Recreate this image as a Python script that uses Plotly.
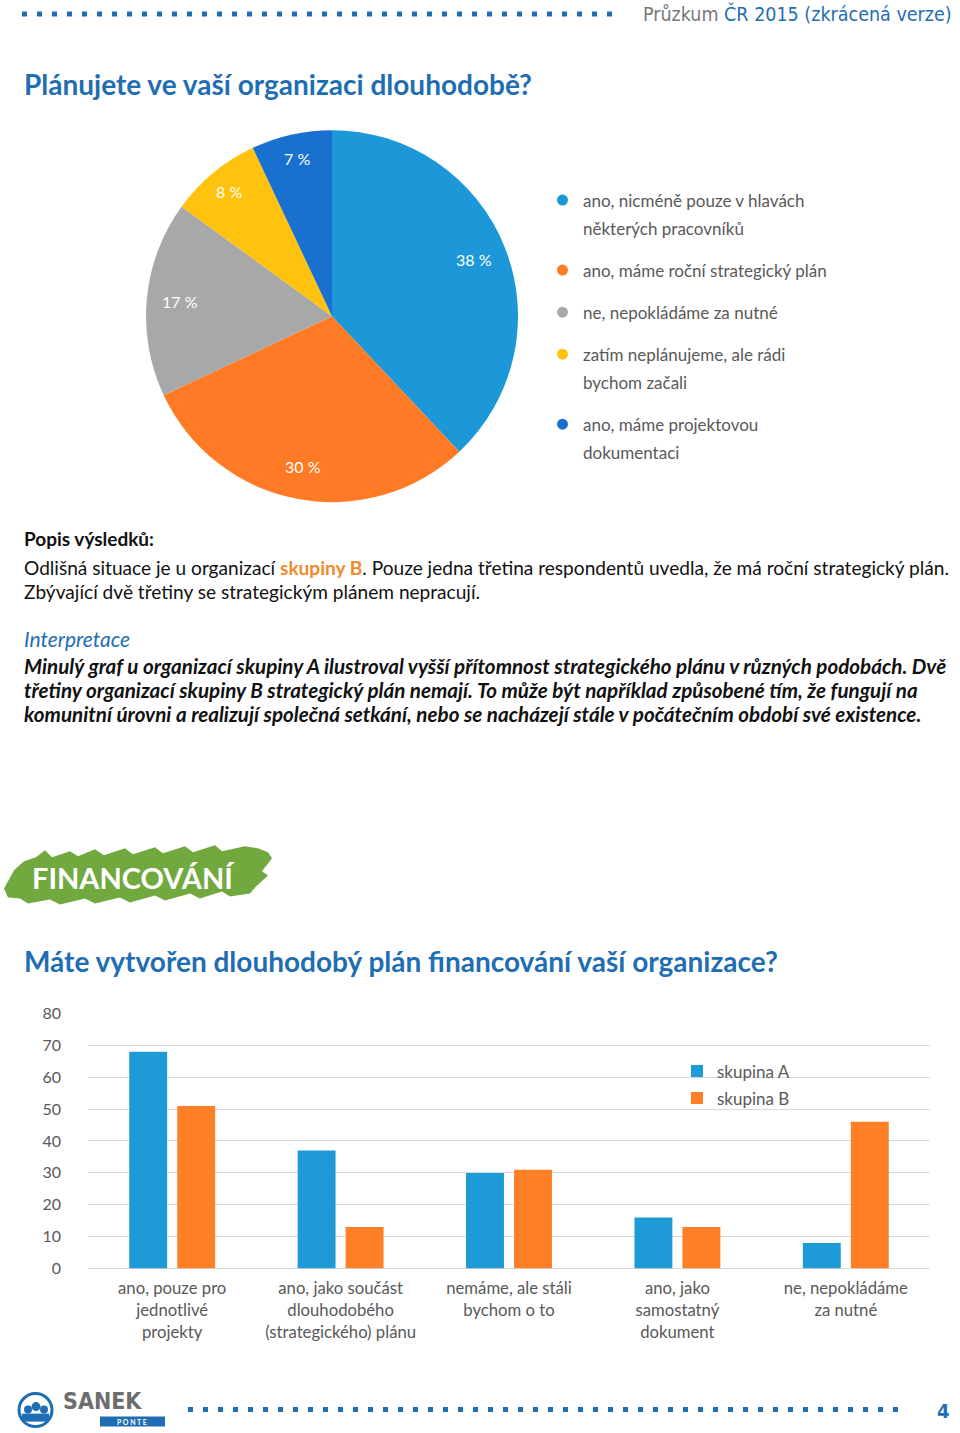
import math
import plotly.graph_objects as go

W, H = 960, 1453
SY = 0.9865   # vertical scale observed between the figure and the photographed page

# ---------------- data ----------------
pie_labels = ["ano, nicméně pouze v hlavách<br>některých pracovníků",
              "ano, máme roční strategický plán",
              "ne, nepokládáme za nutné",
              "zatím neplánujeme, ale rádi<br>bychom začali",
              "ano, máme projektovou<br>dokumentaci"]
pie_values = [38, 30, 17, 8, 7]
pie_colors = ["#1c98d8", "#ff7a25", "#a8a8a8", "#ffc30f", "#1a70cf"]

bar_categories = ["ano, pouze pro<br>jednotlivé<br>projekty",
                  "ano, jako součást<br>dlouhodobého<br>(strategického) plánu",
                  "nemáme, ale stáli<br>bychom o to",
                  "ano, jako<br>samostatný<br>dokument",
                  "ne, nepokládáme<br>za nutné"]
skupina_a = [68, 37, 30, 16, 8]
skupina_b = [51, 13, 31, 13, 46]
bar_series = ["skupina A", "skupina B"]
bar_colors = ["#1e9ad6", "#ff7f27"]
y_ticks = [0, 10, 20, 30, 40, 50, 60, 70, 80]

BLUE = "#1f6eb4"
GRAY = "#595959"
FONT = "Lato, 'Open Sans', sans-serif"
NARROW = "'Liberation Sans Narrow', 'DejaVu Sans Condensed', 'Roboto Condensed', sans-serif"


def px(x):
    return x / W


def py(y):
    return 1 - (y / SY) / H


fig = go.Figure()

# ---------------- pie ----------------
PCX, PCY, PR = 332, 316, 186
fig.add_trace(go.Pie(
    labels=pie_labels, values=pie_values, sort=False, direction="clockwise",
    rotation=0, marker=dict(colors=pie_colors, line=dict(width=0)),
    textinfo="none",
    domain=dict(x=[px(PCX - PR), px(PCX + PR)], y=[py(PCY + PR), py(PCY - PR)]),
    showlegend=False, hoverinfo="label+value",
))

# ---------------- bars ----------------
for name, vals, col in zip(bar_series, [skupina_a, skupina_b], bar_colors):
    fig.add_trace(go.Bar(x=bar_categories, y=vals, name=name, legendgroup=name,
                         marker=dict(color=col, line=dict(width=0))))

fig.update_layout(
    width=W, height=H, margin=dict(l=0, r=0, t=0, b=0),
    paper_bgcolor="white", plot_bgcolor="white",
    barmode="group", bargap=0.43, bargroupgap=0.21,
    font=dict(family=FONT, color=GRAY),
    xaxis=dict(domain=[px(88), px(930)], showline=False, showgrid=False, zeroline=False,
               ticks="", tickfont=dict(size=16.7, color=GRAY), ticklabelstandoff=8),
    yaxis=dict(domain=[py(1268), py(1013)], range=[0, 80], tickvals=y_ticks,
               showgrid=True, gridcolor="#d9d9d9", gridwidth=1, zeroline=True,
               zerolinecolor="#d9d9d9", zerolinewidth=1, showline=False, ticks="",
               tickfont=dict(size=16, color=GRAY), ticklabelstandoff=26),
    legend=dict(x=px(677), y=py(1053), xanchor="left", yanchor="top",
                font=dict(size=17, color=GRAY), bgcolor="rgba(0,0,0,0)", tracegroupgap=2,
                itemsizing="constant"),
)

shapes = []
ann = []


def text(x, y, s, size, color, family=FONT, xanchor="left", yanchor="middle"):
    ann.append(dict(x=px(x), y=py(y), xref="paper", yref="paper", text=s, showarrow=False,
                    xanchor=xanchor, yanchor=yanchor, align="left",
                    font=dict(size=size, color=color, family=family)))


# pie percentage labels, placed along each slice's mid angle
cum = 0
total = sum(pie_values)
for v in pie_values:
    mid = (cum + v / 2) / total * 2 * math.pi
    rf = 0.82 if v > 12 else 0.87
    text(PCX + rf * PR * math.sin(mid), PCY - rf * PR * math.cos(mid), "%d %%" % v, 16, "white",
         xanchor="center")
    cum += v

# header
shapes.append(dict(type="line", xref="paper", yref="paper", x0=px(22), x1=px(622), y0=py(14), y1=py(14),
                   line=dict(color=BLUE, width=5, dash="5px,10px")))
text(954, 14, "<span style='color:#777777'>Průzkum</span> ČR 2015 (zkrácená verze)", 19.5, BLUE,
     family=NARROW, xanchor="right")

# title
text(22, 84, "<b>Plánujete ve vaší organizaci dlouhodobě?</b>", 28, BLUE)

# pie legend
yy = 200
for lab, col in zip(pie_labels, pie_colors):
    lines = lab.split("<br>")
    shapes.append(dict(type="circle", xref="paper", yref="paper", x0=px(557), x1=px(568),
                       y0=py(yy + 5.5), y1=py(yy - 5.5), fillcolor=col, line=dict(width=0)))
    for i, ln in enumerate(lines):
        text(581, yy + 28 * i, ln, 17, GRAY)
    yy += 28 * len(lines) + 14

# description
text(22, 538, "<b>Popis výsledků:</b>", 19, "#111111")
text(22, 567, "Odlišná situace je u organizací <b><span style='color:#f08a2c'>skupiny B</span></b>. "
              "Pouze jedna třetina respondentů uvedla, že má roční strategický plán.", 19.1, "#111111")
text(22, 591, "Zbývající dvě třetiny se strategickým plánem nepracují.", 19.1, "#111111")
text(22, 638, "<i>Interpretace</i>", 21, BLUE)
interp = ["Minulý graf u organizací skupiny A ilustroval vyšší přítomnost strategického plánu v různých podobách. Dvě",
          "třetiny organizací skupiny B strategický plán nemají. To může být například způsobené tím, že fungují na",
          "komunitní úrovni a realizují společná setkání, nebo se nacházejí stále v počátečním období své existence."]
for i, ln in enumerate(interp):
    text(22, 666 + 24 * i, "<b><i>" + ln + "</i></b>", 20.6, "#111111")

# FINANCOVÁNÍ banner (scribbled green brush stroke)
banner = [(4, 888), (14, 870), (24, 861), (36, 857), (45, 850), (52, 857), (70, 851), (78, 856),
          (95, 849), (104, 855), (125, 848), (133, 854), (155, 847), (163, 853), (185, 846), (193, 852),
          (215, 845), (222, 851), (245, 846), (258, 848), (268, 852), (272, 858), (262, 871), (268, 875),
          (256, 886), (250, 893), (230, 896), (222, 891), (200, 898), (190, 893), (165, 900), (155, 895),
          (130, 902), (120, 897), (95, 903), (85, 898), (60, 904), (50, 899), (28, 903), (20, 898), (8, 897)]
path = "M " + " L ".join("%f,%f" % (px(a), py(b)) for a, b in banner) + " Z"
shapes.append(dict(type="path", xref="paper", yref="paper", fillcolor="#72a93f", line=dict(width=0),
                   path=path))
text(30, 877, "<b>FINANCOVÁNÍ</b>", 29, "white")

# second title
text(22, 961, "<b>Máte vytvořen dlouhodobý plán financování vaší organizace?</b>", 28, BLUE)

# footer
shapes.append(dict(type="line", xref="paper", yref="paper", x0=px(188), x1=px(902), y0=py(1409), y1=py(1409),
                   line=dict(color=BLUE, width=5, dash="5px,10px")))
text(943, 1410, "<b>4</b>", 20, BLUE, family=NARROW, xanchor="center")
shapes.append(dict(type="circle", xref="paper", yref="paper", x0=px(19), x1=px(52), y0=py(1426), y1=py(1393),
                   line=dict(color=BLUE, width=3), fillcolor="white"))
for cx, cy, r in [(28, 1409, 4), (36, 1406, 4.5), (44, 1409, 4)]:
    shapes.append(dict(type="circle", xref="paper", yref="paper", x0=px(cx - r), x1=px(cx + r),
                       y0=py(cy + r), y1=py(cy - r), fillcolor=BLUE, line=dict(width=0)))
shapes.append(dict(type="rect", xref="paper", yref="paper", x0=px(22), x1=px(49), y0=py(1421), y1=py(1413),
                   fillcolor=BLUE, line=dict(width=0)))
text(61, 1400.5, "<b>SANEK</b>", 23, "#6d6d6d", family=NARROW)
shapes.append(dict(type="rect", xref="paper", yref="paper", x0=px(100), x1=px(165), y0=py(1426), y1=py(1416),
                   fillcolor=BLUE, line=dict(width=0)))
text(132, 1421.5, "<b>P O N T E</b>", 7, "white", xanchor="center")

fig.update_layout(shapes=shapes, annotations=ann)

# pin the figure to the page's top-left corner
pin = ("document.documentElement.style.margin='0';document.body.style.margin='0';"
       "document.body.style.overflow='hidden';"
       "var d=document.getElementById('{plot_id}');d.style.position='absolute';"
       "d.style.left='0px';d.style.top='-10px';")
fig.write_html("out.html", post_script=pin, config={"displayModeBar": False})
